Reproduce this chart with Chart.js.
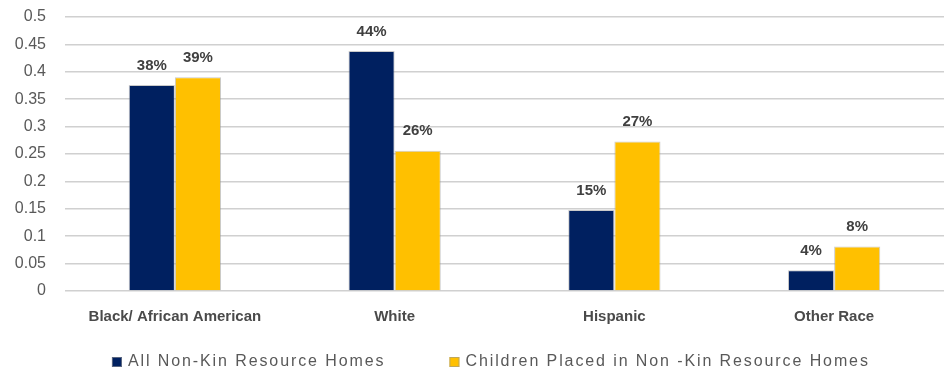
<!DOCTYPE html>
<html>
<head>
<meta charset="utf-8">
<script src="https://cdn.jsdelivr.net/npm/chart.js@4"></script>
<style>
  html, body { margin: 0; padding: 0; background: #fff; }
  #wrap { width: 944px; height: 375px; }
</style>
</head>
<body>
<div id="wrap"><canvas id="chart"></canvas></div>
<script>
const categories = ["Black/ African American", "White", "Hispanic", "Other Race"];
const seriesNames = ["All Non-Kin Resource Homes", "Children Placed in Non -Kin Resource Homes"];
const allHomes = [0.376, 0.438, 0.148, 0.038];
const childrenPlaced = [0.39, 0.256, 0.273, 0.081];
const yTicks = [0, 0.05, 0.1, 0.15, 0.2, 0.25, 0.3, 0.35, 0.4, 0.45, 0.5];

const FONT = '"Liberation Sans", Arial, sans-serif';

// percent labels above each bar
const barLabels = {
  id: "barLabels",
  afterDatasetsDraw(chart) {
    const ctx = chart.ctx;
    ctx.save();
    ctx.font = "bold 15px " + FONT;
    ctx.fillStyle = "#404040";
    ctx.textAlign = "center";
    ctx.textBaseline = "bottom";
    chart.data.datasets.forEach((ds, i) => {
      chart.getDatasetMeta(i).data.forEach((bar, j) => {
        ctx.fillText(Math.round(ds.data[j] * 100) + "%", bar.x, bar.y - 12);
      });
    });
    ctx.restore();
  },
};

// legend row under the axis, wider spacing than the built-in one allows
const bottomLegend = {
  id: "bottomLegend",
  afterDraw(chart) {
    const ctx = chart.ctx;
    const box = 10, gap = 6, itemGap = 64;
    ctx.save();
    ctx.font = "16px " + FONT;
    ctx.letterSpacing = "1.9px";
    const items = chart.data.datasets.map((ds) => ({
      text: ds.label,
      color: ds.backgroundColor,
      w: ctx.measureText(ds.label).width,
    }));
    const total = items.reduce((s, it) => s + box + gap + it.w, 0) + itemGap * (items.length - 1);
    let x = chart.width * 0.52 - total / 2;
    const y = 362;
    ctx.textBaseline = "middle";
    ctx.textAlign = "left";
    items.forEach((it) => {
      ctx.fillStyle = it.color;
      ctx.fillRect(x, y - box / 2, box, box);
      ctx.strokeStyle = "rgba(150,150,150,0.6)";
      ctx.lineWidth = 1;
      ctx.strokeRect(x + 0.5, y - box / 2 + 0.5, box - 1, box - 1);
      x += box + gap;
      ctx.fillStyle = "#595959";
      ctx.fillText(it.text, x, y);
      x += it.w + itemGap;
    });
    ctx.restore();
  },
};

new Chart(document.getElementById("chart"), {
  type: "bar",
  data: {
    labels: categories,
    datasets: [
      {
        label: seriesNames[0],
        data: allHomes,
        backgroundColor: "#002060",
        borderColor: "rgba(150,150,150,0.5)",
        borderWidth: 1,
        categoryPercentage: 0.42,
        barPercentage: 1,
      },
      {
        label: seriesNames[1],
        data: childrenPlaced,
        backgroundColor: "#FFC000",
        borderColor: "rgba(150,150,150,0.5)",
        borderWidth: 1,
        categoryPercentage: 0.42,
        barPercentage: 1,
      },
    ],
  },
  options: {
    responsive: true,
    maintainAspectRatio: false,
    animation: false,
    layout: { padding: { top: 17, right: 0, bottom: 40, left: 0 } },
    scales: {
      x: {
        grid: { display: false },
        border: { display: false },
        ticks: {
          color: "#4a4a4a",
          font: { family: FONT, size: 15, weight: "bold" },
          padding: 9,
          maxRotation: 0,
        },
      },
      y: {
        min: 0,
        max: 0.5,
        afterFit(scale) {
          scale.width = 65;
          // label gap is horizontal only, keep it out of the top/bottom padding
          scale.paddingTop = 9;
          scale.paddingBottom = 9;
        },
        afterBuildTicks(scale) { scale.ticks = yTicks.map((v) => ({ value: v })); },
        grid: { color: "#d0d0d0", lineWidth: 1.5, drawTicks: false },
        border: { display: false },
        ticks: {
          autoSkip: false,
          color: "#595959",
          font: { family: FONT, size: 16 },
          padding: 19,
          callback: (v) => String(+v.toFixed(2)),
        },
      },
    },
    plugins: {
      legend: { display: false },
      tooltip: { enabled: false },
    },
  },
  plugins: [barLabels, bottomLegend],
});
</script>
</body>
</html>
